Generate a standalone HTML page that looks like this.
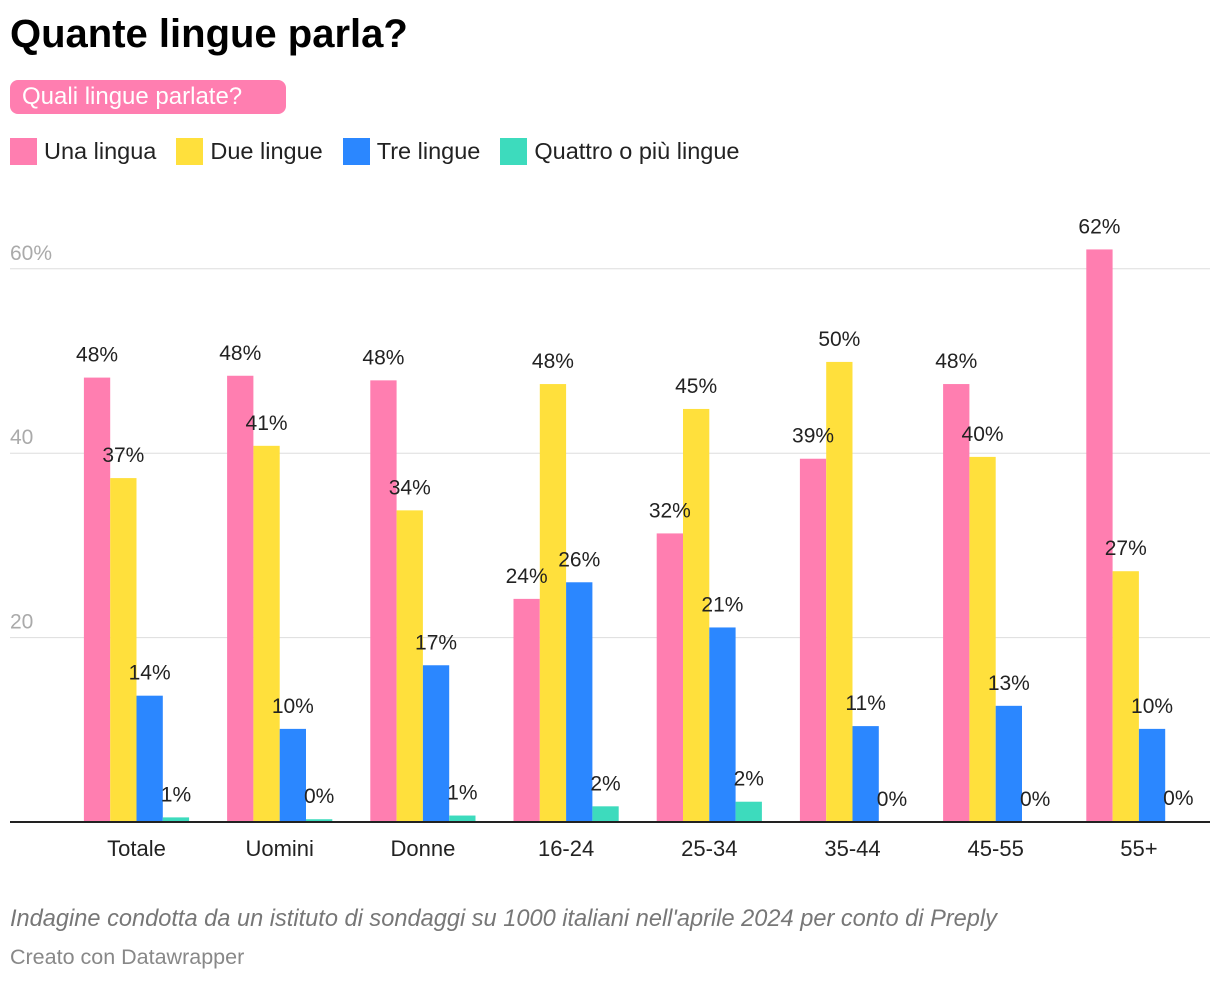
<!DOCTYPE html>
<html><head><meta charset="utf-8">
<style>
body{margin:0;width:1220px;height:982px;background:#fff;font-family:"Liberation Sans",Roboto,sans-serif;position:relative;overflow:hidden;color:#222}
.abs{position:absolute;white-space:nowrap}
</style></head><body>
<div class="abs" style="left:10px;top:12px;font-size:40px;font-weight:bold;color:#000">Quante lingue parla?</div>
<div class="abs" style="left:10px;top:80px;height:34px;width:264px;padding-left:12px;background:#ff7eb0;border-radius:8px;color:#fff;font-size:24px;line-height:34px">Quali lingue parlate?</div>
<div class="abs" style="left:10px;top:137px;font-size:23.5px;line-height:28px;display:flex">
 <div style="display:flex;align-items:center;margin-right:20px"><span style="width:27px;height:27px;background:#ff7eb0;margin-right:7px"></span>Una lingua</div>
 <div style="display:flex;align-items:center;margin-right:20px"><span style="width:27px;height:27px;background:#ffe03c;margin-right:7px"></span>Due lingue</div>
 <div style="display:flex;align-items:center;margin-right:20px"><span style="width:27px;height:27px;background:#2b87ff;margin-right:7px"></span>Tre lingue</div>
 <div style="display:flex;align-items:center"><span style="width:27px;height:27px;background:#3ddbbd;margin-right:7px"></span>Quattro o più lingue</div>
</div>
<svg id="chart" class="abs" style="left:0;top:0" width="1220" height="900"></svg>
<div class="abs" style="left:10px;top:906px;font-size:23.6px;font-style:italic;color:#777">Indagine condotta da un istituto di sondaggi su 1000 italiani nell'aprile 2024 per conto di Preply</div>
<div class="abs" style="left:10px;top:945px;font-size:21.5px;color:#888">Creato con Datawrapper</div>
<script>
const categories=["Totale","Uomini","Donne","16-24","25-34","35-44","45-55","55+"];
const una=[48.2,48.4,47.9,24.2,31.3,39.4,47.5,62.1];
const due=[37.3,40.8,33.8,47.5,44.8,49.9,39.6,27.2];
const tre=[13.7,10.1,17.0,26.0,21.1,10.4,12.6,10.1];
const quattro=[0.5,0.3,0.7,1.7,2.2,0,0,0.1];
const labUna=["48%","48%","48%","24%","32%","39%","48%","62%"];
const labDue=["37%","41%","34%","48%","45%","50%","40%","27%"];
const labTre=["14%","10%","17%","26%","21%","11%","13%","10%"];
const labQuattro=["1%","0%","1%","2%","2%","0%","0%","0%"];
const ticks=[20,40,60];
const svg=document.getElementById('chart');const NS="http://www.w3.org/2000/svg";
const y=v=>822-v*9.22;
const gx=i=>136.5+i*143.2;
const bw=26.3;
function mk(t,a){const e=document.createElementNS(NS,t);for(const k in a)e.setAttribute(k,a[k]);svg.appendChild(e);return e;}
ticks.forEach(t=>{const l=mk('line',{x1:10,x2:1210,y1:y(t),y2:y(t),stroke:'#ddd','stroke-width':1});


const tx=mk('text',{x:10,y:y(t)-9,'font-size':21,fill:'#aaa','font-family':'Liberation Sans, sans-serif'});tx.textContent=t+(t==60?'%':'');

});
const series=[[una,labUna,'#ff7eb0'],[due,labDue,'#ffe03c'],[tre,labTre,'#2b87ff'],[quattro,labQuattro,'#3ddbbd']];
categories.forEach((c,i)=>{
 series.forEach((s,j)=>{const x=gx(i)-2*bw+j*bw;const v=s[0][i];
  const r=mk('rect',{x:x,y:y(v),width:bw,height:822-y(v),fill:s[2]});
  
  });
 series.forEach((s,j)=>{const x=gx(i)-2*bw+j*bw;const v=s[0][i];
  const t=mk('text',{x:x+bw/2,y:y(v)-16,'text-anchor':'middle','font-size':21,fill:'#222','font-family':'Liberation Sans, sans-serif'});t.textContent=s[1][i];
  
  });
 const t=mk('text',{x:gx(i),y:856,'text-anchor':'middle','font-size':22,fill:'#222','font-family':'Liberation Sans, sans-serif'});t.textContent=c;
 
 
});
const b=mk('line',{x1:10,x2:1210,y1:822,y2:822,stroke:'#222','stroke-width':2});


</script>
</body></html>
